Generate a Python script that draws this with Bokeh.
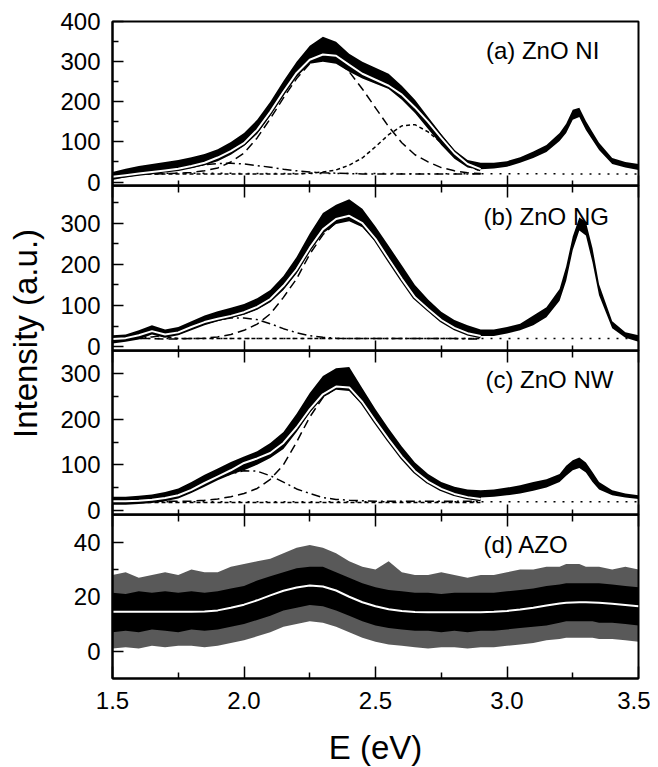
import math
from bokeh.plotting import figure
from bokeh.layouts import row, column
from bokeh.models import Range1d, FixedTicker, LinearAxis, Label, PrintfTickFormatter
from bokeh.models.labeling import CustomLabelingPolicy
from bokeh.embed import file_html
from bokeh.resources import INLINE

FONT = "Liberation Sans"

# ---------------- data ----------------
E = [1.50, 1.55, 1.60, 1.65, 1.70, 1.75, 1.80, 1.85, 1.90, 1.95,
     2.00, 2.05, 2.10, 2.15, 2.20, 2.25, 2.30, 2.35, 2.40, 2.45,
     2.50, 2.55, 2.60, 2.65, 2.70, 2.75, 2.80, 2.85, 2.90, 2.95,
     3.00, 3.05, 3.10, 3.15, 3.20, 3.225, 3.25, 3.275, 3.30, 3.325,
     3.35, 3.40, 3.45, 3.50]
E_FIT = [1.50, 1.55, 1.60, 1.65, 1.70, 1.75, 1.80, 1.85, 1.90, 1.95,
         2.00, 2.05, 2.10, 2.15, 2.20, 2.25, 2.30, 2.35, 2.40, 2.45,
         2.50, 2.55, 2.60, 2.65, 2.70, 2.75, 2.80, 2.85, 2.90]
E_BASE = [1.50, 3.50]
E_FLAT = [1.50, 2.90]

# (a) ZnO NI
A_LO = [5, 12, 17, 22, 26, 30, 35, 42, 52, 68,
        90, 120, 165, 215, 262, 295, 300, 295, 275, 258,
        245, 232, 205, 172, 132, 92, 58, 36, 32, 34,
        38, 48, 60, 75, 102, 122, 155, 162, 130, 105,
        80, 45, 36, 30]
A_HI = [25, 33, 40, 45, 50, 55, 62, 70, 82, 100,
        122, 155, 200, 252, 300, 340, 362, 350, 320, 300,
        285, 270, 240, 205, 162, 120, 80, 55, 48, 48,
        52, 62, 76, 92, 122, 145, 180, 185, 152, 125,
        98, 60, 50, 45]
A_FIT = [13, 17, 21, 25, 29, 33, 40, 48, 61, 77,
         97, 130, 175, 225, 272, 305, 318, 315, 292, 270,
         255, 240, 218, 186, 150, 110, 72, 45, 32]
A_PK1 = [20, 20, 20, 20, 21, 22, 24, 28, 35, 50,
         72, 110, 158, 210, 258, 295, 312, 305, 275, 232,
         185, 138, 98, 68, 50, 36, 28, 23, 21]
A_PK2 = [20, 20, 20, 20, 20, 20, 20, 20, 20, 20,
         20, 20, 20, 20, 20, 22, 25, 30, 42, 60,
         88, 118, 140, 143, 125, 98, 65, 40, 27]
A_DD = [21, 22, 23, 25, 28, 32, 38, 43, 46, 47,
        45, 41, 37, 32, 28, 25, 23, 22, 21, 20,
        20, 20, 20, 20, 20, 20, 20, 20, 20]
A_BASE = [22, 20]

# (b) ZnO NG
B_LO = [8, 12, 18, 30, 22, 28, 40, 52, 62, 70,
        78, 90, 108, 138, 178, 232, 275, 298, 305, 290,
        255, 210, 165, 120, 90, 63, 45, 33, 26, 26,
        32, 40, 52, 72, 112, 160, 235, 282, 270, 205,
        125, 45, 22, 12]
B_HI = [28, 30, 40, 52, 42, 48, 62, 76, 86, 95,
        104, 118, 138, 172, 218, 275, 325, 345, 358, 335,
        292, 245, 198, 150, 115, 85, 65, 52, 42, 42,
        48, 56, 76, 96, 140, 195, 268, 314, 303, 240,
        152, 62, 35, 28]
B_FIT = [19, 21, 28, 38, 30, 35, 48, 60, 68, 75,
         84, 97, 116, 148, 188, 240, 285, 310, 318, 300,
         262, 213, 165, 120, 92, 65, 46, 33, 26]
B_PK1 = [20, 20, 20, 20, 19, 19, 20, 21, 24, 30,
         40, 55, 80, 120, 165, 225, 272, 302, 314, 298,
         260, 212, 163, 118, 88, 62, 44, 32, 25]
B_PK2 = [20, 21, 26, 33, 24, 20, 20, 20, 20, 20,
         20, 20, 20, 20, 20, 20, 20, 20, 20, 20,
         20, 20, 20, 20, 20, 20, 20, 20, 20]
B_DD = [18, 19, 21, 24, 28, 34, 45, 56, 65, 70,
        70, 66, 56, 44, 34, 27, 23, 21, 20, 20,
        20, 20, 20, 20, 20, 20, 20, 19, 19]
B_BASE = [20, 20]

# (c) ZnO NW
C_LO = [12, 12, 14, 16, 20, 26, 38, 52, 66, 78,
        88, 100, 115, 135, 172, 215, 248, 265, 262, 232,
        192, 152, 115, 82, 60, 45, 35, 30, 28, 30,
        33, 37, 43, 50, 62, 76, 88, 93, 83, 62,
        46, 33, 28, 25]
C_HI = [30, 30, 32, 35, 40, 48, 62, 78, 92, 106,
        118, 130, 148, 172, 212, 258, 295, 312, 315, 268,
        222, 180, 140, 105, 80, 62, 52, 46, 44, 46,
        50, 55, 62, 68, 80, 98, 110, 116, 105, 84,
        62, 44, 37, 33]
C_FIT = [20, 20, 21, 23, 27, 33, 45, 60, 74, 88,
         104, 114, 126, 148, 182, 222, 255, 272, 270, 238,
         196, 156, 118, 86, 63, 47, 36, 29, 25]
C_PK1 = [20, 20, 20, 20, 20, 20, 20, 22, 25, 30,
         37, 48, 68, 100, 150, 205, 248, 270, 268, 235,
         195, 155, 118, 85, 62, 46, 35, 28, 24]
C_DD = [20, 20, 21, 23, 27, 33, 45, 60, 72, 80,
        87, 86, 76, 62, 47, 37, 28, 24, 22, 21,
        20, 20, 20, 20, 20, 20, 20, 20, 20]
C_FLAT = [17, 17]
C_BASE = [19, 19]

# (d) AZO
D_FIT = [14.5, 14.5, 14.5, 14.5, 14.5, 14.5, 14.5, 14.6, 15, 16,
         17.1, 18.7, 20.5, 22.2, 23.4, 24.1, 23.8, 22.3, 20, 18,
         16.5, 15.4, 14.8, 14.4, 14.3, 14.3, 14.3, 14.3, 14.3, 14.5,
         14.8, 15.3, 16, 16.8, 17.5, 17.8, 17.9, 18, 18, 17.9,
         17.8, 17.4, 17, 16.5]
D_CORE_LO = [7, 7.5, 7, 8, 7.5, 7, 8, 7.5, 8, 9,
             10, 11.5, 13, 15, 16, 17, 16.5, 15, 13, 11,
             9.5, 8.5, 8, 7.5, 7.5, 7, 7.5, 7, 7.5, 7.5,
             8, 8.5, 9, 9.5, 10.5, 11, 11, 11, 11, 11,
             10.5, 10.5, 10, 9.5]
D_CORE_HI = [21.5, 21, 22, 21.5, 22, 21.5, 22, 21.5, 22, 23,
             24, 26, 27.5, 29, 30.5, 31, 31, 29, 27, 25,
             23.5, 22.5, 22, 21.5, 21.5, 21, 21.5, 21.5, 21.5, 21.5,
             22, 22.5, 23, 24, 24.5, 25, 25, 25, 25, 25,
             25, 24.5, 24, 23.5]
D_SPIKE_LO = [1, 1.5, 1, 2, 1.5, 2, 2, 1.5, 2, 3,
              4, 5.5, 7, 9, 10, 11, 10.5, 9, 7, 5,
              3.5, 2.5, 2, 1.5, 1, 1.5, 1.5, 1, 1.5, 1.5,
              2, 2.5, 3, 4, 4.5, 5, 5, 5, 5, 5,
              4.5, 4.5, 4, 3.5]
D_SPIKE_HI = [28, 29, 27, 28, 29, 28, 30, 29, 29, 31,
              32, 33, 34, 36, 38, 39, 38, 36, 33, 31,
              30, 33, 29, 28, 28, 29, 28, 27, 28, 28,
              29, 30, 30, 31, 31, 32, 32, 32, 31, 31,
              31, 30, 31, 30]

X_MAJOR = [1.5, 2.0, 2.5, 3.0, 3.5]
X_MINOR = [1.75, 2.25, 2.75, 3.25]
X_LIMITS = (1.5, 3.5)

HIDE_ALL = """
for (const i of indices) indices.unset(i)
return indices
"""

OVERLAP = 14


def make_panel(yr, y_major, y_minor, frame_h, first=False, last=False):
    fill = "white" if first else None
    p = figure(frame_width=526, frame_height=frame_h,
               x_range=Range1d(*X_LIMITS), y_range=Range1d(*yr),
               toolbar_location=None, output_backend="svg",
               min_border=0, min_border_left=60, min_border_right=12,
               min_border_top=21 if first else 0,
               min_border_bottom=0 if last else OVERLAP,
               background_fill_color=fill, border_fill_color=fill)
    p.grid.visible = False
    p.outline_line_color = "black"
    p.outline_line_width = 2

    ya = p.yaxis[0]
    ya.ticker = FixedTicker(ticks=y_major, minor_ticks=y_minor)
    ya.major_tick_in = 11
    ya.major_tick_out = 0
    ya.minor_tick_in = 6
    ya.minor_tick_out = 0
    ya.major_tick_line_width = 1.5
    ya.minor_tick_line_width = 1.5
    ya.axis_line_width = 2
    ya.major_label_standoff = 12
    ya.major_label_text_font = FONT
    ya.major_label_text_font_size = "24px"
    ya.major_label_text_color = "black"

    xa = p.xaxis[0]
    xa.ticker = FixedTicker(ticks=X_MAJOR, minor_ticks=X_MINOR)
    xa.major_tick_out = 0
    xa.minor_tick_out = 0
    xa.major_tick_line_width = 1.5
    xa.minor_tick_line_width = 1.5
    xa.axis_line_width = 2
    if last:
        xa.major_tick_in = 12
        xa.minor_tick_in = 6
        xa.formatter = PrintfTickFormatter(format="%.1f")
        xa.major_label_standoff = 13
        xa.major_label_text_font = FONT
        xa.major_label_text_font_size = "24px"
        xa.major_label_text_color = "black"
        xa.axis_label = "E (eV)"
        xa.axis_label_standoff = 17
        xa.axis_label_text_font = FONT
        xa.axis_label_text_font_size = "33px"
        xa.axis_label_text_font_style = "normal"
        xa.axis_label_text_color = "black"
    else:
        xa.major_tick_in = 10
        xa.minor_tick_in = 5
        xa.major_label_text_font_size = "0px"
        xa.major_label_standoff = 0
        xa.major_label_policy = CustomLabelingPolicy(code=HIDE_ALL)

    if not first:
        top = LinearAxis(ticker=FixedTicker(ticks=X_MAJOR, minor_ticks=X_MINOR),
                         major_tick_in=12, major_tick_out=0,
                         minor_tick_in=7, minor_tick_out=0,
                         major_tick_line_width=1.5, minor_tick_line_width=1.5,
                         axis_line_width=2, major_label_text_font_size="0px",
                         major_label_standoff=0,
                         major_label_policy=CustomLabelingPolicy(code=HIDE_ALL))
        p.add_layout(top, "above")
    if not last:
        p.margin = (0, 0, -OVERLAP, 0)
    return p


def draw_fit(p, ex, vals):
    p.line(ex, vals, line_color="black", line_width=4.5)
    p.line(ex, vals, line_color="white", line_width=2)


def add_title(p, x, y, text):
    p.add_layout(Label(x=x, y=y, text=text, text_font=FONT, text_font_size="24px",
                       text_color="black", text_align="left", text_baseline="alphabetic"))


DASH = "9 5"
SHORT = "4 3"
DASHDOT = "9 4 2 4"
DOT = "2 7"

# panel (a)
pa = make_panel((-8.7, 400.3), [0, 100, 200, 300, 400], [50, 150, 250, 350], 164, first=True)
pa.line(E_BASE, A_BASE, line_color="black", line_width=1.5, line_dash=DOT)
pa.varea(x=E, y1=A_LO, y2=A_HI, fill_color="black")
pa.line(E_FIT, A_PK1, line_color="black", line_width=1.5, line_dash=DASH)
pa.line(E_FIT, A_PK2, line_color="black", line_width=1.5, line_dash=SHORT)
pa.line(E_FIT, A_DD, line_color="black", line_width=1.5, line_dash=DASHDOT)
draw_fit(pa, E_FIT, A_FIT)
add_title(pa, 2.92, 329, "(a) ZnO NI")

# panel (b)
pb = make_panel((-9.0, 391.5), [0, 100, 200, 300], [50, 150, 250, 350], 165)
pb.line(E_BASE, B_BASE, line_color="black", line_width=1.5, line_dash=DOT)
pb.varea(x=E, y1=B_LO, y2=B_HI, fill_color="black")
pb.line(E_FIT, B_PK1, line_color="black", line_width=1.5, line_dash=DASH)
pb.line(E_FIT, B_PK2, line_color="black", line_width=1.5, line_dash=SHORT)
pb.line(E_FIT, B_DD, line_color="black", line_width=1.5, line_dash=DASHDOT)
draw_fit(pb, E_FIT, B_FIT)
add_title(pb, 2.911, 316, "(b) ZnO NG")

# panel (c)
pc = make_panel((-9.2, 351.2), [0, 100, 200, 300], [50, 150, 250], 164)
pc.line(E_BASE, C_BASE, line_color="black", line_width=1.5, line_dash=DOT)
pc.line(E_FLAT, C_FLAT, line_color="black", line_width=1.5, line_dash=SHORT)
pc.varea(x=E, y1=C_LO, y2=C_HI, fill_color="black")
pc.line(E_FIT, C_PK1, line_color="black", line_width=1.5, line_dash=DASH)
pc.line(E_FIT, C_DD, line_color="black", line_width=1.5, line_dash=DASHDOT)
draw_fit(pc, E_FIT, C_FIT)
add_title(pc, 2.918, 287, "(c) ZnO NW")

# panel (d)
pd = make_panel((-10.0, 50.2), [0, 20, 40], [10, 30], 164, last=True)
pd.varea(x=E, y1=D_SPIKE_LO, y2=D_SPIKE_HI, fill_color="black", fill_alpha=0.65)
pd.varea(x=E, y1=D_CORE_LO, y2=D_CORE_HI, fill_color="black")
draw_fit(pd, E, D_FIT)
add_title(pd, 2.911, 39.2, "(d) AZO")

# y-axis title spanning the panels
p0 = figure(width=52, height=700, x_range=Range1d(0, 52), y_range=Range1d(0, 700),
            toolbar_location=None, output_backend="svg", min_border=0,
            x_axis_type=None, y_axis_type=None, outline_line_color=None)
p0.add_layout(Label(x=25, y=367, text="Intensity (a.u.)", angle=math.pi / 2,
                    text_align="center", text_baseline="middle",
                    text_font=FONT, text_font_size="33px", text_color="black"))

layout = row(p0, column(pa, pb, pc, pd))
open("out.html", "w").write(file_html(layout, INLINE))
